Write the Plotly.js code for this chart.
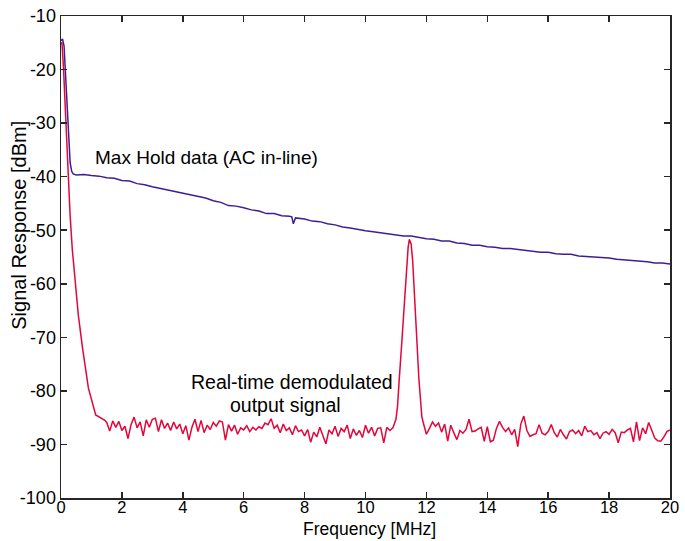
<!DOCTYPE html>
<html>
<head>
<meta charset="utf-8">
<script src="https://cdn.plot.ly/plotly-3.0.1.min.js"></script>
<style>html,body{margin:0;padding:0;background:#fff;}#chart{width:685px;height:541px;}</style>
</head>
<body>
<div id="chart"></div>
<script>
// Max Hold data (AC in-line) — frequency [MHz] and level [dBm]
const maxHoldFreq = [0,0.05,0.1,0.15,0.2,0.25,0.3,0.35,0.4,0.5,0.75,1,1.25,1.5,1.75,2,2.25,2.5,2.75,3,
  3.25,3.5,3.75,4,4.25,4.5,4.75,5,5.25,5.5,5.75,6,6.25,6.5,6.75,7,7.25,7.5,7.58,7.63,
  7.7,8,8.25,8.5,8.75,9,9.25,9.5,9.75,10,10.25,10.5,10.75,11,11.25,11.5,11.75,12,12.25,12.5,
  12.75,13,13.25,13.5,13.75,14,14.25,14.5,14.75,15,15.25,15.5,15.75,16,16.25,16.5,16.75,17,17.25,17.5,
  17.75,18,18.25,18.5,18.75,19,19.25,19.5,19.75,20];
const maxHoldDbm = [-14.6,-14.3,-15.6,-21,-27.5,-33,-37.4,-39.0,-39.5,-39.7,-39.6,-39.8,-39.9,-40.2,-40.3,-40.7,-40.8,-41.3,-41.5,-41.9,
  -42.2,-42.6,-42.8,-43.1,-43.4,-43.7,-44.0,-44.5,-44.8,-45.4,-45.5,-45.8,-46.2,-46.4,-46.9,-46.9,-47.3,-47.4,-47.5,-48.8,
  -47.7,-47.9,-48.3,-48.4,-48.8,-49.0,-49.4,-49.6,-49.9,-50.1,-50.3,-50.5,-50.7,-50.8,-51.1,-51.1,-51.4,-51.6,-51.7,-52.0,
  -52.0,-52.4,-52.5,-52.8,-52.8,-53.1,-53.2,-53.4,-53.4,-53.6,-53.8,-53.9,-54.1,-54.1,-54.4,-54.5,-54.5,-54.8,-54.9,-55.0,
  -55.0,-55.2,-55.4,-55.5,-55.6,-55.8,-55.9,-56.1,-56.1,-56.3];

// Real-time demodulated output signal
const demodFreq = [0,0.03,0.08,0.19,0.24,0.3,0.37,0.46,0.57,0.71,0.9,1.14,1.34,1.44,1.5,
  1.6,1.7,1.8,1.9,2.0,2.1,2.2,2.3,2.4,2.5,2.6,2.7,2.8,2.9,3.0,3.1,3.2,3.3,3.4,3.5,3.6,3.7,3.8,3.9,
  4.0,4.1,4.2,4.3,4.4,4.5,4.6,4.7,4.8,4.9,5.0,5.1,5.2,5.3,5.4,5.5,5.6,5.7,5.8,5.9,
  6.0,6.1,6.2,6.3,6.4,6.5,6.6,6.7,6.8,6.9,7.0,7.1,7.2,7.3,7.4,7.5,7.6,7.7,7.8,7.9,
  8.0,8.1,8.2,8.3,8.4,8.5,8.6,8.7,8.8,8.9,9.0,9.1,9.2,9.3,9.4,9.5,9.6,9.7,9.8,9.9,
  10.0,10.1,10.2,10.3,10.4,10.5,10.6,10.7,10.8,10.9,
  11.0,11.05,11.1,11.15,11.2,11.25,11.3,11.35,11.4,11.44,11.5,11.55,11.6,11.65,11.7,11.75,11.8,11.85,11.9,
  12.0,12.1,12.2,12.3,12.4,12.5,12.6,12.7,12.8,12.9,13.0,13.1,13.2,13.3,13.4,13.5,13.6,13.7,13.8,13.9,
  14.0,14.1,14.2,14.3,14.4,14.5,14.6,14.7,14.8,14.9,15.0,15.1,15.2,15.3,15.4,15.5,15.6,15.7,15.8,15.9,
  16.0,16.1,16.2,16.3,16.4,16.5,16.6,16.7,16.8,16.9,17.0,17.1,17.2,17.3,17.4,17.5,17.6,17.7,17.8,17.9,
  18.0,18.1,18.2,18.3,18.4,18.5,18.6,18.7,18.8,18.9,19.0,19.1,19.2,19.3,19.4,19.5,19.6,19.7,19.8,19.9,20.0];
const demodDbm = [-15.3,-14.9,-19.5,-35,-41.1,-47.3,-53.5,-59.7,-65.9,-72.1,-79.5,-84.5,-85.1,-85.5,-85.9,
  -87.5,-85.6,-86.8,-85.7,-87.4,-86.6,-88.9,-86.3,-84.9,-86.9,-85.8,-88.4,-85.4,-86.8,-85.3,-85.1,-87.6,-85.4,-87.0,-86.0,-87.4,-85.8,-87.1,-86.2,
  -88.0,-86.5,-89.2,-86.8,-85.3,-87.6,-85.5,-87.8,-86.4,-87.2,-85.9,-86.6,-85.6,-85.8,-89.2,-86.3,-87.5,-86.4,-88.1,-86.9,
  -87.3,-86.5,-87.6,-86.8,-87.3,-86.7,-87.0,-86.0,-86.3,-85.2,-87.0,-86.4,-87.8,-86.2,-87.4,-86.9,-88.2,-86.5,-87.6,-87.3,
  -88.4,-87.2,-89.6,-87.7,-88.6,-86.8,-88.2,-89.9,-87.3,-88.0,-86.6,-88.5,-87.0,-87.6,-86.4,-88.9,-87.1,-88.3,-87.4,-88.7,
  -86.4,-87.9,-86.8,-88.4,-87.0,-86.9,-89.7,-86.8,-87.4,-86.9,
  -85.3,-83.0,-78.5,-73.5,-70.3,-66.0,-61.8,-57.0,-53.2,-51.7,-52.6,-55.8,-60.5,-65.8,-72.0,-77.5,-82.3,-84.8,-86.0,
  -88.1,-87.0,-85.8,-86.6,-86.0,-87.7,-86.2,-89.4,-86.4,-87.8,-89.1,-87.4,-87.9,-87.2,-85.3,-87.6,-87.5,-87.1,-86.8,-89.4,
  -86.7,-89.5,-89.2,-87.0,-85.7,-86.8,-87.6,-86.9,-88.2,-87.2,-90.4,-86.2,-84.7,-87.4,-88.5,-88.2,-88.0,-86.3,-87.9,-88.2,
  -87.6,-86.3,-87.8,-88.6,-87.2,-88.2,-89.0,-87.6,-87.3,-88.0,-87.4,-88.4,-86.6,-87.6,-87.4,-88.2,-87.8,-88.9,-87.9,-87.6,
  -88.1,-87.2,-87.8,-89.7,-87.7,-87.8,-87.3,-87.0,-89.5,-85.8,-89.3,-86.9,-88.0,-85.9,-87.5,-88.8,-89.3,-89.4,-88.6,-87.6,-87.3];

const xTickVals = [0,2,4,6,8,10,12,14,16,18,20];
const yTickVals = [-100,-90,-80,-70,-60,-50,-40,-30,-20,-10];

const FONT = 'Liberation Sans, Arial, Helvetica, sans-serif';

const traces = [
  {x: maxHoldFreq, y: maxHoldDbm, type: 'scatter', mode: 'lines',
   line: {color: '#3d1f94', width: 1.5}, hoverinfo: 'skip'},
  {x: demodFreq, y: demodDbm, type: 'scatter', mode: 'lines',
   line: {color: '#e4063b', width: 1.5}, hoverinfo: 'skip'}
];

const axisCommon = {
  showline: true, linecolor: '#262626', linewidth: 1.5, mirror: 'ticks',
  ticks: 'inside', ticklen: 6, tickwidth: 1.5, tickcolor: '#262626',
  showgrid: false, zeroline: false
};

const layout = {
  width: 685, height: 541,
  margin: {l: 61, r: 15, t: 16, b: 43},
  paper_bgcolor: '#fff', plot_bgcolor: '#fff',
  showlegend: false,
  xaxis: Object.assign({}, axisCommon, {range: [0, 20], tickvals: xTickVals, ticktext: xTickVals.map(String),
    ticklabelstandoff: -6, tickfont: {family: FONT, size: 16.5, color: '#000'}}),
  yaxis: Object.assign({}, axisCommon, {range: [-100, -10], tickvals: yTickVals, ticktext: yTickVals.map(String),
    tickfont: {family: FONT, size: 18, color: '#000'}}),
  annotations: [
    {text: 'Frequency [MHz]', xref: 'paper', yref: 'paper', x: 0.507, y: -0.065, yanchor: 'middle', xanchor: 'center',
     showarrow: false, font: {family: FONT, size: 17.5, color: '#000'}},
    {text: 'Signal Response [dBm]', xref: 'paper', yref: 'paper', x: -0.068, y: 0.566, textangle: -90,
     xanchor: 'center', yanchor: 'middle', showarrow: false, font: {family: FONT, size: 20, color: '#000'}},
    {text: 'Max Hold data (AC in-line)', xref: 'x', yref: 'y', x: 4.79, y: -36.4, xanchor: 'center', yanchor: 'middle',
     showarrow: false, font: {family: FONT, size: 19, color: '#000'}},
    {text: 'Real-time demodulated', xref: 'x', yref: 'y', x: 7.59, y: -78.3, xanchor: 'center', yanchor: 'middle',
     showarrow: false, font: {family: FONT, size: 19.5, color: '#000'}},
    {text: 'output signal', xref: 'x', yref: 'y', x: 7.37, y: -82.6, xanchor: 'center', yanchor: 'middle',
     showarrow: false, font: {family: FONT, size: 19.5, color: '#000'}}
  ]
};

Plotly.newPlot('chart', traces, layout, {staticPlot: true, displayModeBar: false});
</script>
</body>
</html>
